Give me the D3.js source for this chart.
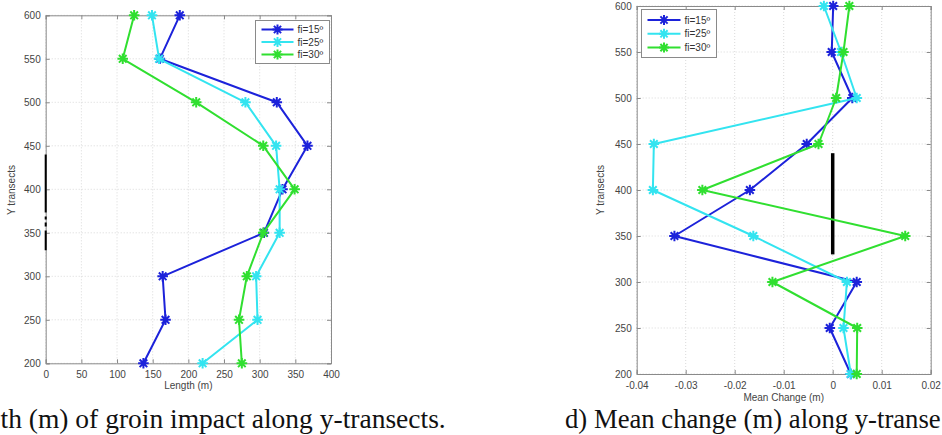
<!DOCTYPE html>
<html><head><meta charset="utf-8">
<script src="https://cdn.jsdelivr.net/npm/d3@7"></script>
<style>
html,body{margin:0;padding:0;background:#fff;overflow:hidden}
svg{display:block}
</style></head><body>
<svg id="chart" width="942" height="435"></svg>
<script>
// Y transects along the shore (m)
const transects = [600, 550, 500, 450, 400, 350, 300, 250, 200];
const seriesNames = ["fi=15º", "fi=25º", "fi=30º"];

// Length (m) of groin impact per transect
const length15 = [188, 160, 324, 367, 332, 306, 164, 168, 137];
const length25 = [149, 159, 280, 323, 328, 328, 295, 297, 220];
const length30 = [124, 108, 211, 305, 349, 305, 282, 271, 275];

// Mean change (m) per transect
const change15 = [0.0001, -0.0002, 0.0040, -0.0053, -0.0169, -0.0323, 0.0049, -0.0006, 0.0037];
const change25 = [-0.0018, 0.0017, 0.0049, -0.0365, -0.0367, -0.0162, 0.0029, 0.0022, 0.0037];
const change30 = [0.0034, 0.0022, 0.0007, -0.0029, -0.0266, 0.0148, -0.0123, 0.0050, 0.0049];

// Groin location (transect span)
const groinSpan = [440, 330];

// Tick values and labels
const yTicks = [200, 250, 300, 350, 400, 450, 500, 550, 600];
const lengthTicks = [0, 50, 100, 150, 200, 250, 300, 350, 400];
const changeTicks = [-0.04, -0.03, -0.02, -0.01, 0, 0.01, 0.02];
const changeTickLabels = ["-0.04", "-0.03", "-0.02", "-0.01", "0", "0.01", "0.02"];

// Sub-figure captions
const captionLeft = "th (m) of groin impact along y-transects.";
const captionRight = "d) Mean change (m) along y-transe";

const colors = ["#1c22da", "#33e4f0", "#30df30"];
const svg = d3.select("#chart");

function asterisk(r) {
  const a = r * 0.72;
  return `M${-r},0L${r},0M0,${-r}L0,${r}M${-a},${-a}L${a},${a}M${-a},${a}L${a},${-a}`;
}

function panel(opt) {
  const x = d3.scaleLinear().domain(opt.xDomain).range([opt.left, opt.right]);
  const y = d3.scaleLinear().domain([200, 600]).range([opt.bottom, opt.top]);
  const g = svg.append("g");

  // dotted grid
  g.append("g").selectAll("line").data(opt.xTicks).join("line")
    .attr("x1", d => x(d)).attr("x2", d => x(d))
    .attr("y1", opt.top).attr("y2", opt.bottom)
    .attr("stroke", "#cfcfcf").attr("stroke-width", 0.8).attr("stroke-dasharray", "1,2");
  g.append("g").selectAll("line").data(yTicks).join("line")
    .attr("y1", d => y(d)).attr("y2", d => y(d))
    .attr("x1", opt.left).attr("x2", opt.right)
    .attr("stroke", "#cfcfcf").attr("stroke-width", 0.8).attr("stroke-dasharray", "1,2");

  // axes with inward ticks
  const fmtX = opt.xLabels ? (d, i) => opt.xLabels[i] : d3.format("d");
  const axB = g.append("g").attr("transform", `translate(0,${opt.bottom})`)
    .call(d3.axisBottom(x).tickValues(opt.xTicks).tickSize(-4).tickPadding(8).tickFormat(fmtX));
  const axT = g.append("g").attr("transform", `translate(0,${opt.top})`)
    .call(d3.axisTop(x).tickValues(opt.xTicks).tickSize(-4).tickFormat(""));
  const axL = g.append("g").attr("transform", `translate(${opt.left},0)`)
    .call(d3.axisLeft(y).tickValues(yTicks).tickSize(-4).tickPadding(5).tickFormat(d3.format("d")));
  const axR = g.append("g").attr("transform", `translate(${opt.right},0)`)
    .call(d3.axisRight(y).tickValues(yTicks).tickSize(-4).tickFormat(""));
  [axB, axT, axL, axR].forEach(a => {
    a.select(".domain").attr("stroke", "#8a8a8a");
    a.selectAll(".tick line").attr("stroke", "#8a8a8a");
    a.selectAll("text").attr("fill", "#444").style("font-family", "'Liberation Sans', Arial, sans-serif").style("font-size", "10px");
  });

  // axis titles
  g.append("text").attr("x", (opt.left + opt.right) / 2).attr("y", opt.xTitleY)
    .attr("text-anchor", "middle").attr("fill", "#444")
    .style("font-family", "'Liberation Sans', Arial, sans-serif").style("font-size", "10px")
    .text(opt.xTitle);
  g.append("text").attr("transform", `translate(${opt.yTitleX},190) rotate(-90)`)
    .attr("text-anchor", "middle").attr("fill", "#444")
    .style("font-family", "'Liberation Sans', Arial, sans-serif").style("font-size", "10px")
    .text("Y transects");

  // groin marker at x = 0
  g.append("line")
    .attr("x1", x(0)).attr("x2", x(0))
    .attr("y1", y(groinSpan[0])).attr("y2", y(groinSpan[1]))
    .attr("stroke", "#000").attr("stroke-width", opt.groinWidth)
    .attr("stroke-dasharray", opt.groinDash || null);

  // series
  const line = d3.line().x(d => x(d[0])).y(d => y(d[1]));
  opt.series.forEach((vals, i) => {
    const pts = vals.map((v, k) => [v, transects[k]]);
    g.append("path").datum(pts).attr("d", line)
      .attr("fill", "none").attr("stroke", colors[i]).attr("stroke-width", 2)
      .attr("stroke-linejoin", "round");
    g.append("g").selectAll("path").data(pts).join("path")
      .attr("transform", d => `translate(${x(d[0])},${y(d[1])})`)
      .attr("d", asterisk(5.3)).attr("fill", "none")
      .attr("stroke", colors[i]).attr("stroke-width", 2);
  });

  // legend
  const L = opt.legend;
  const lg = g.append("g");
  lg.append("rect").attr("x", L.x).attr("y", L.y).attr("width", L.w).attr("height", L.h)
    .attr("fill", "#fff").attr("stroke", "#8a8a8a").attr("stroke-width", 1);
  seriesNames.forEach((name, i) => {
    const cy = L.y + L.rowStart + i * L.rowGap;
    lg.append("line").attr("x1", L.x + 6).attr("x2", L.x + 6 + L.lineLen)
      .attr("y1", cy).attr("y2", cy).attr("stroke", colors[i]).attr("stroke-width", 2);
    lg.append("path").attr("transform", `translate(${L.x + 6 + L.lineLen / 2},${cy})`)
      .attr("d", asterisk(5)).attr("fill", "none").attr("stroke", colors[i]).attr("stroke-width", 2);
    lg.append("text").attr("x", L.x + 10 + L.lineLen).attr("y", cy + 3.5)
      .attr("fill", "#333")
      .style("font-family", "'Liberation Sans', Arial, sans-serif").style("font-size", "10px")
      .text(name);
  });
}

panel({
  xDomain: [0, 400], left: 45.7, right: 331, top: 15.3, bottom: 363.3,
  xTicks: lengthTicks, xTitle: "Length (m)", xTitleY: 389, yTitleX: 15,
  series: [length15, length25, length30],
  groinWidth: 2, groinDash: "58,4,3,3,4,4,40",
  legend: { x: 255.5, y: 20.5, w: 74, h: 43, rowStart: 9, rowGap: 12.5, lineLen: 32 }
});

panel({
  xDomain: [-0.04, 0.02], left: 636.7, right: 930.7, top: 6, bottom: 374,
  xTicks: changeTicks, xLabels: changeTickLabels, xTitle: "Mean Change (m)", xTitleY: 401, yTitleX: 604,
  series: [change15, change25, change30],
  groinWidth: 3.5,
  legend: { x: 641.5, y: 9.5, w: 75, h: 48, rowStart: 10.5, rowGap: 13.8, lineLen: 33 }
});

// figure captions
svg.append("text").attr("x", 0.5).attr("y", 428)
  .style("font-family", "'Liberation Serif', 'Times New Roman', serif").style("font-size", "27.5px")
  .attr("fill", "#111")
  .text(captionLeft);
svg.append("text").attr("x", 565).attr("y", 428)
  .style("font-family", "'Liberation Serif', 'Times New Roman', serif").style("font-size", "26.7px")
  .attr("fill", "#111")
  .text(captionRight);
</script>
</body></html>
